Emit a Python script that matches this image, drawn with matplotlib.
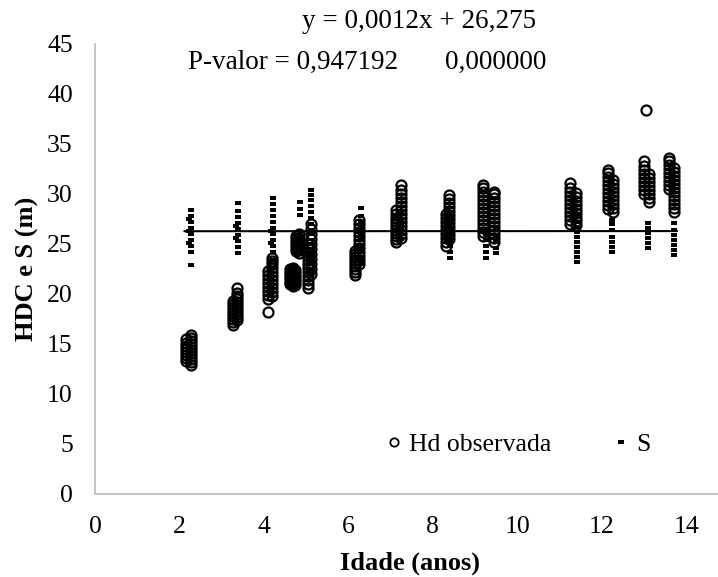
import numpy as np
import matplotlib.pyplot as plt
from matplotlib.lines import Line2D

plt.rcParams['font.family'] = ['Liberation Serif', 'DejaVu Serif']

# Hd observada: idade de cada coluna de pontos e alturas
hd_idade_col = [2.15, 2.28, 3.27, 3.37, 4.10, 4.20, 4.62, 4.68, 4.74, 4.76, 4.82,
                5.05, 5.12, 6.15, 6.25, 7.12, 7.25, 8.30, 8.38, 9.18, 9.45,
                11.25, 11.38, 12.15, 12.27, 13.00, 13.12, 13.05, 13.60, 13.72]
hd_altura_col = [
    [13.3, 13.6, 13.9, 14.2, 14.5, 14.8, 15.1, 15.5],
    [12.9, 13.2, 13.5, 13.8, 14.1, 14.4, 14.7, 15.0, 15.3, 15.6, 15.9],
    [16.9, 17.2, 17.5, 17.8, 18.1, 18.4, 18.7, 19.0, 19.3],
    [17.4, 17.7, 18.0, 18.3, 18.6, 18.9, 19.2, 19.5, 19.8, 20.1, 20.6],
    [18.2, 19.5, 19.9, 20.3, 20.7, 21.1, 21.5, 21.9, 22.3],
    [19.8, 20.2, 20.6, 21.0, 21.4, 21.8, 22.2, 22.6, 23.0, 23.3, 23.6],
    [21.0, 21.25, 21.5, 21.75, 22.0, 22.25, 22.5],
    [20.8, 21.05, 21.3, 21.55, 21.8, 22.05, 22.3, 22.6],
    [20.9, 21.2, 21.5, 21.8, 22.1, 22.4],
    [24.3, 24.6, 24.9, 25.2, 25.5, 25.8],
    [24.1, 24.4, 24.7, 25.0, 25.3, 25.6, 26.0],
    [20.6, 21.0, 21.4, 21.8, 22.2, 22.6, 23.0, 23.4, 23.8, 24.2, 24.6, 25.0],
    [22.0, 22.5, 23.0, 23.5, 24.0, 24.5, 25.0, 25.5, 26.0, 26.5, 27.0],
    [21.9, 22.2, 22.5, 22.8, 23.1, 23.4, 23.7, 24.0, 24.3],
    [23.0, 23.4, 23.8, 24.2, 24.6, 25.0, 25.4, 25.8, 26.2, 26.6, 27.0, 27.4],
    [25.2, 25.5, 25.8, 26.1, 26.4, 26.7, 27.0, 27.3, 27.6, 28.0, 28.4],
    [25.6, 26.0, 26.4, 26.8, 27.2, 27.6, 28.0, 28.4, 28.8, 29.2, 29.6, 30.0, 30.4, 30.9],
    [24.8, 25.2, 25.6, 26.0, 26.4, 26.8, 27.2, 27.6, 28.0],
    [25.5, 25.9, 26.3, 26.7, 27.1, 27.5, 27.9, 28.3, 28.7, 29.1, 29.5, 29.9],
    [25.8, 26.2, 26.6, 27.0, 27.4, 27.8, 28.2, 28.6, 29.0, 29.4, 29.8, 30.2, 30.6, 30.9],
    [25.2, 25.6, 26.0, 26.4, 26.8, 27.2, 27.6, 28.0, 28.4, 28.8, 29.2, 29.6, 30.0, 30.2],
    [27.0, 27.4, 27.8, 28.2, 28.6, 29.0, 29.4, 29.8, 30.2, 30.6, 31.1],
    [26.9, 27.3, 27.7, 28.1, 28.5, 28.9, 29.3, 29.7, 30.1],
    [28.5, 28.9, 29.3, 29.7, 30.1, 30.5, 30.9, 31.3, 31.7, 32.1, 32.4],
    [28.2, 28.6, 29.0, 29.4, 29.8, 30.2, 30.6, 31.0, 31.4],
    [30.0, 30.4, 30.8, 31.2, 31.6, 32.0, 32.4, 32.8, 33.3],
    [29.2, 29.6, 30.0, 30.4, 30.8, 31.2, 31.6, 32.0],
    [38.4],
    [30.5, 30.9, 31.3, 31.7, 32.1, 32.5, 32.9, 33.3, 33.6],
    [28.2, 28.6, 29.0, 29.4, 29.8, 30.2, 30.6, 31.0, 31.4, 31.8, 32.2, 32.6],
]

# S
s_idade_col = [2.27, 2.22, 3.38, 3.33, 4.22, 4.17, 4.85, 5.12, 6.30, 7.25, 8.40,
               9.25, 9.50, 11.40, 12.25, 13.10, 13.72]
s_altura_col = [
    [22.9, 24.2, 24.8, 25.4, 26.0, 26.6, 27.2, 27.8, 28.4],
    [25.1, 26.3, 27.5],
    [24.1, 24.7, 25.3, 25.9, 26.5, 27.1, 27.7, 28.3, 29.1],
    [25.6, 26.8],
    [22.6, 23.4, 24.2, 24.8, 25.4, 26.0, 26.6, 27.2, 27.8, 28.4, 29.0, 29.6],
    [25.1, 26.3],
    [25.0, 25.6, 26.3, 27.9, 28.5, 29.2],
    [22.0, 23.0, 24.0, 25.0, 26.0, 27.0, 27.6, 28.2, 28.8, 29.4, 29.9, 30.4],
    [23.0, 23.6, 24.2, 24.8, 25.4, 26.0, 26.6, 27.2, 27.8, 28.6],
    [25.5, 26.0, 26.5, 27.0, 27.5, 28.0],
    [23.6, 24.2, 24.8, 25.4, 26.0, 26.6, 27.2, 27.8],
    [23.6, 24.2, 24.8, 25.4, 26.0],
    [24.1, 24.6, 25.2, 25.8, 26.4],
    [23.2, 23.7, 24.2, 24.7, 25.2, 25.7, 26.2, 26.7, 27.2, 27.7],
    [24.2, 24.7, 25.2, 25.7, 26.4, 27.0, 27.4],
    [24.6, 25.1, 25.6, 26.1, 26.6, 27.1],
    [23.9, 24.4, 24.9, 25.4, 25.9, 26.4, 27.1],
]

# linha de tendência de S: y = 0,0012x + 26,275
linha_idade = [2.12, 13.78]
linha_s = [26.278, 26.292]

x_ticks = [0, 2, 4, 6, 8, 10, 12, 14]
y_ticks = [0, 5, 10, 15, 20, 25, 30, 35, 40, 45]


def expandir(idades, alturas):
    xs, ys = [], []
    for idade, vals in zip(idades, alturas):
        xs.extend([idade] * len(vals))
        ys.extend(vals)
    return np.array(xs), np.array(ys)


hd_x, hd_y = expandir(hd_idade_col, hd_altura_col)
s_x, s_y = expandir(s_idade_col, s_altura_col)

fig = plt.figure(figsize=(7.18, 5.77), dpi=100)
ax = fig.add_axes([95 / 718, 83 / 577, 623 / 718, 450 / 577])

traco = [(-1, -0.7), (1, -0.7), (1, 0.7), (-1, 0.7), (-1, -0.7)]

ax.plot(hd_x, hd_y, linestyle='none', marker='o', markersize=7.2,
        markerfacecolor='none', markeredgecolor='black', markeredgewidth=1.6)
ax.plot(s_x, s_y, linestyle='none', marker=traco, markersize=4.2,
        markerfacecolor='black', markeredgewidth=0, color='black')
ax.plot(linha_idade, linha_s, color='black', linewidth=1.5)

ax.set_xlim(0, 14.75)
ax.set_ylim(0, 45)
ax.set_xticks(x_ticks)
ax.set_yticks(y_ticks)
ax.tick_params(axis='both', length=0, labelsize=18.5, pad=16)

for lado in ['top', 'right']:
    ax.spines[lado].set_visible(False)
for lado in ['left', 'bottom']:
    ax.spines[lado].set_color('#BFBFBF')
    ax.spines[lado].set_linewidth(1.3)

ax.set_xlabel('Idade (anos)', fontsize=19, fontweight='bold')
ax.set_ylabel('HDC e S (m)', fontsize=19, fontweight='bold')
ax.xaxis.set_label_coords(0.505, -0.127)
ax.yaxis.set_label_coords(-0.09, 0.5)

handles = [
    Line2D([], [], linestyle='none', marker='o', markersize=6,
           markerfacecolor='none', markeredgecolor='black', markeredgewidth=1.3),
    Line2D([], [], linestyle='none', marker=traco, markersize=4.2,
           markerfacecolor='black', markeredgewidth=0, color='black'),
]
ax.legend(handles, ['Hd observada', 'S'], loc='center',
          bbox_to_anchor=(0.68, 0.109), ncol=2, frameon=False, fontsize=18.5,
          handlelength=0.6, handletextpad=0.3, columnspacing=2.4)

fig.text(419 / 718, 1 - 22 / 577, 'y = 0,0012x + 26,275', fontsize=19.5,
         ha='center', va='center')
fig.text(188 / 718, 1 - 62 / 577, 'P-valor = 0,947192', fontsize=19.5,
         ha='left', va='center')
fig.text(445 / 718, 1 - 62 / 577, '0,000000', fontsize=19.5,
         ha='left', va='center')

fig.savefig('out.png', dpi=100)
